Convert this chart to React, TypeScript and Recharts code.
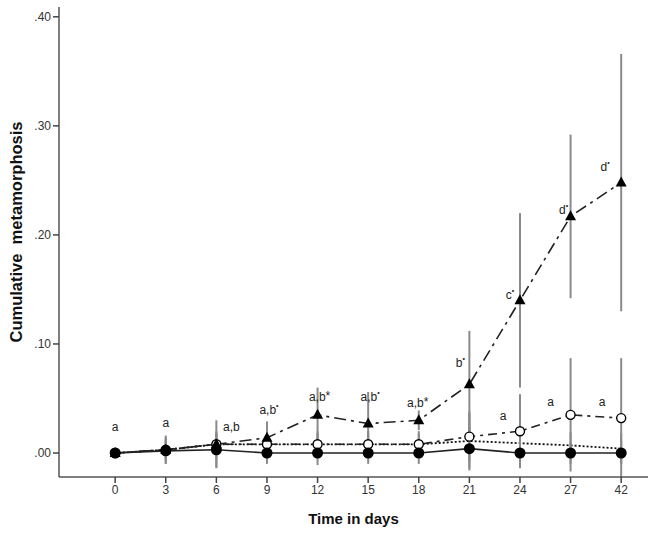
import { ComposedChart, Line, XAxis, YAxis, ErrorBar, LabelList, Label } from 'recharts';

const days = ['0', '3', '6', '9', '12', '15', '18', '21', '24', '27', '42'];

// triangles (dash-dot)
const triMean = [0, 0.003, 0.008, 0.014, 0.035, 0.027, 0.030, 0.063, 0.140, 0.217, 0.248];
const triErr = [0, 0.013, 0.022, 0.015, 0.025, 0.029, 0.009, 0.049, 0.080, 0.075, 0.118];
const triLetters = ['a', 'a', 'a,b', 'a,b', 'a,b', 'a,b', 'a,b', 'b', 'c', 'd', 'd'];
const triMarks = ['', '', '', '•', '*', '•', '*', '•', '•', '•', '•'];

// open circles (dashed)
const openMean = [0, 0.003, 0.008, 0.008, 0.008, 0.008, 0.008, 0.015, 0.020, 0.035, 0.032];
const openErr = [0, 0.010, 0.012, 0.012, 0.012, 0.012, 0.012, 0.023, 0.034, 0.052, 0.055];
const openLetters = ['', '', '', '', '', '', '', '', 'a', 'a', 'a'];

// dotted
const dotMean = [0, 0.003, 0.008, 0.008, 0.008, 0.008, 0.008, 0.011, 0.009, 0.007, 0.004];
const dotErr = [0, 0.008, 0.010, 0.010, 0.010, 0.010, 0.010, 0.025, 0.012, 0.012, 0.014];

// filled circles (solid)
const solidMean = [0, 0.002, 0.003, 0, 0, 0, 0, 0.004, 0, 0, 0];
const solidErr = [0, 0.012, 0.016, 0.010, 0.011, 0.010, 0.010, 0.020, 0.010, 0.010, 0.010];

const yTicks = [0, 0.1, 0.2, 0.3, 0.4];

const data = days.map((d, i) => ({
  idx: i,
  tri: triMean[i],
  triE: triErr[i],
  open: openMean[i],
  openE: openErr[i],
  dot: dotMean[i],
  dotE: dotErr[i],
  solid: solidMean[i],
  solidE: solidErr[i],
}));

// label offsets relative to the marker (px)
const triOff = [[0, -22], [0, -23], [15, -13], [2, -24], [2, -14], [2, -23], [-1, -13], [-9, -17], [-10, -1], [-7, -2], [-16, -12]];
const openOff = [[0, 0], [0, 0], [0, 0], [0, 0], [0, 0], [0, 0], [0, 0], [0, 0], [-17, -11], [-20, -9], [-19, -12]];

const FONT = '"Liberation Sans", Arial, sans-serif';
const ERR = '#8a8a8a';

const Triangle = (props: any) => {
  const { cx, cy, index } = props;
  if (cx == null || cy == null) return <g key={`t${index}`} />;
  return <path key={`t${index}`} d={`M${cx},${cy - 6} L${cx + 5.5},${cy + 4} L${cx - 5.5},${cy + 4} Z`} fill="#000" />;
};

const OpenDot = (props: any) => {
  const { cx, cy, index } = props;
  return <circle key={`o${index}`} cx={cx} cy={cy} r={4.5} fill="#fff" stroke="#000" strokeWidth={1.4} />;
};

const SolidDot = (props: any) => {
  const { cx, cy, index } = props;
  return <circle key={`s${index}`} cx={cx} cy={cy} r={5.5} fill="#000" />;
};

const triLabel = (props: any) => {
  const { x, y, index } = props;
  const [dx, dy] = triOff[index];
  const mark = triMarks[index];
  return (
    <text x={x + dx} y={y + dy} textAnchor="middle" fontSize={12} fill="#222" fontFamily={FONT}>
      {triLetters[index]}
      {mark && (
        <tspan fontSize={mark === '*' ? 12 : 7} dy={mark === '*' ? -1 : -6}>{mark}</tspan>
      )}
    </text>
  );
};

const openLabel = (props: any) => {
  const { x, y, index } = props;
  if (!openLetters[index]) return null;
  const [dx, dy] = openOff[index];
  return (
    <text x={x + dx} y={y + dy} textAnchor="middle" fontSize={12} fill="#222" fontFamily={FONT}>
      {openLetters[index]}
    </text>
  );
};

export default function App() {
  return (
    <div style={{ width: 653, height: 543, background: '#fff' }}>
      <style>{`body{margin:0;background:#fff}`}</style>
      <ComposedChart width={653} height={543} data={data} margin={{ top: 7, right: 5, bottom: 6, left: 0 }}>
        <XAxis
          type="number"
          dataKey="idx"
          domain={[-1.11, 10.53]}
          allowDataOverflow
          ticks={days.map((_, i) => i)}
          tickFormatter={(v: number) => days[v]}
          height={60}
          tickSize={6}
          tickLine={{ stroke: '#444', strokeWidth: 1.5 }}
          axisLine={{ stroke: '#555', strokeWidth: 1.5 }}
          tick={{ fill: '#333', fontSize: 12, fontFamily: FONT }}
        >
          <Label value="Time in days" position="insideBottom" offset={13} style={{ fontSize: 15, fontWeight: 'bold', fill: '#111', fontFamily: FONT }} />
        </XAxis>
        <YAxis
          type="number"
          domain={[-0.022, 0.409]}
          allowDataOverflow
          ticks={yTicks}
          tickFormatter={(v: number) => v.toFixed(2).replace(/^0/, '')}
          width={59}
          tickSize={6}
          tickLine={{ stroke: '#444', strokeWidth: 1.5 }}
          axisLine={{ stroke: '#555', strokeWidth: 1.5 }}
          tick={{ fill: '#333', fontSize: 12, fontFamily: FONT }}
        >
          <Label value={'Cumulative\u00a0\u00a0metamorphosis'} angle={-90} position="insideLeft" offset={16} dy={-10} style={{ fontSize: 16.5, fontWeight: 'bold', fill: '#111', fontFamily: FONT, textAnchor: 'middle' }} />
        </YAxis>

        <Line dataKey="dot" stroke="#111" strokeWidth={1.8} strokeDasharray="2 2" dot={false} isAnimationActive={false}>
          <ErrorBar dataKey="dotE" width={0} stroke={ERR} strokeWidth={2} direction="y" />
        </Line>
        <Line dataKey="open" stroke="#222" strokeWidth={1.6} strokeDasharray="9 5 3 5" dot={OpenDot} isAnimationActive={false}>
          <ErrorBar dataKey="openE" width={0} stroke={ERR} strokeWidth={2} direction="y" />
          <LabelList dataKey="open" content={openLabel} />
        </Line>
        <Line dataKey="tri" stroke="#222" strokeWidth={1.6} strokeDasharray="12 5 3 5" dot={Triangle} isAnimationActive={false}>
          <ErrorBar dataKey="triE" width={0} stroke={ERR} strokeWidth={2} direction="y" />
          <LabelList dataKey="tri" content={triLabel} />
        </Line>
        <Line dataKey="solid" stroke="#222" strokeWidth={1.6} dot={SolidDot} isAnimationActive={false}>
          <ErrorBar dataKey="solidE" width={0} stroke={ERR} strokeWidth={2} direction="y" />
        </Line>
      </ComposedChart>
    </div>
  );
}
